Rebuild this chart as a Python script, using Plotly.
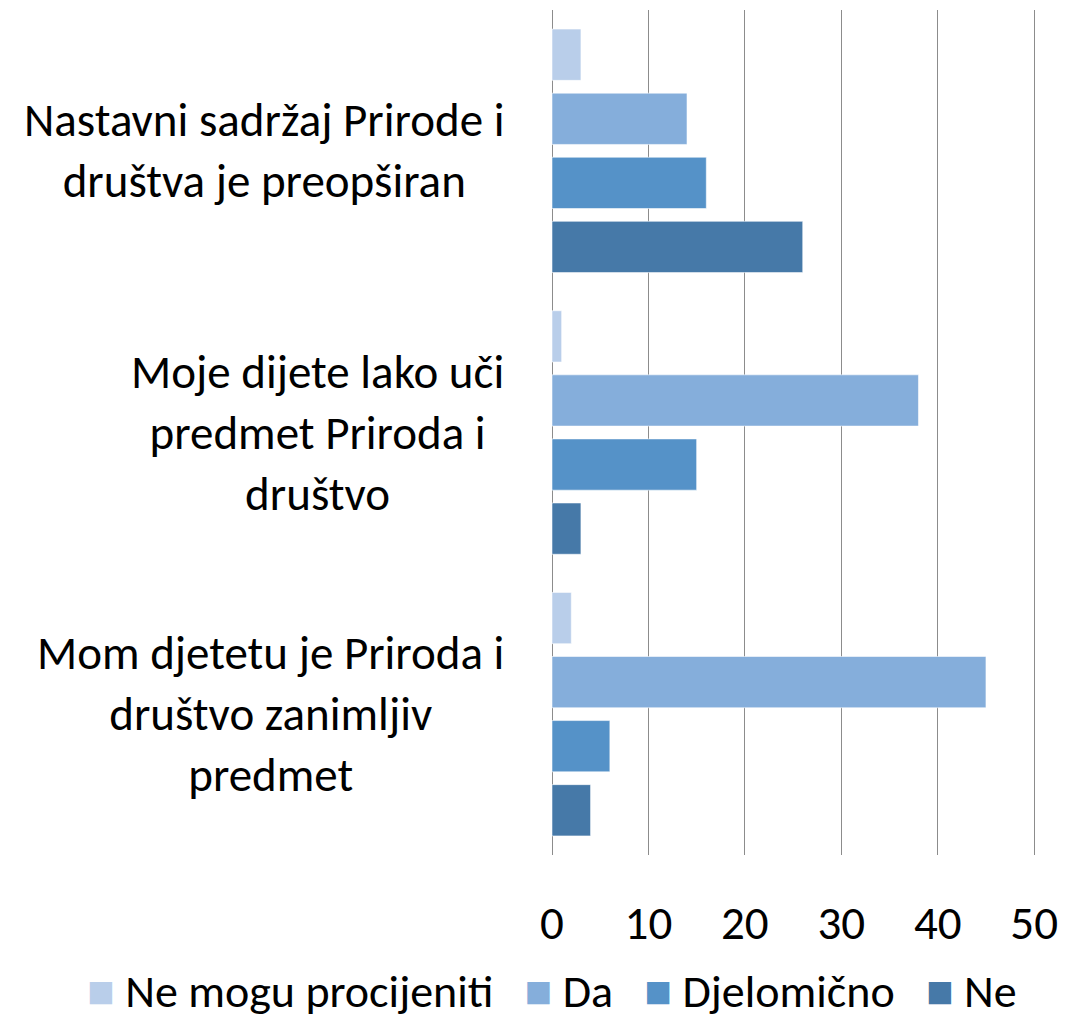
import plotly.graph_objects as go

categories = [
    "Nastavni sadržaj Prirode i<br>društva je preopširan",
    "Moje dijete lako uči<br>predmet Priroda i<br>društvo",
    "Mom djetetu je Priroda i<br>društvo zanimljiv<br>predmet",
]
series_names = ["Ne mogu procijeniti", "Da", "Djelomično", "Ne"]
ne_mogu = [3, 1, 2]
da = [14, 38, 45]
djelomicno = [16, 15, 6]
ne = [26, 3, 4]
series_values = [ne_mogu, da, djelomicno, ne]
colors = ["#B9CEEA", "#85AEDB", "#5592C8", "#4679A8"]
x_ticks = [0, 10, 20, 30, 40, 50]

FONT = "Carlito, Calibri, Lato, sans-serif"
FS = 47

fig = go.Figure()
for name, vals, col in zip(series_names, series_values, colors):
    fig.add_trace(go.Bar(
        y=categories, x=vals, name=name, orientation="h",
        marker=dict(color=col, line=dict(color="rgba(255,255,255,0.55)", width=1)),
        showlegend=False,
    ))

# category labels (centered multi-line text, right edge near axis)
for cat in categories:
    fig.add_annotation(
        x=0, xref="paper", xanchor="right", xshift=-46,
        y=cat, yref="y", yanchor="middle",
        text=cat, align="center", showarrow=False,
        font=dict(family=FONT, size=FS, color="#000000"),
    )

# legend row (centered under the value axis origin)
legend_text = "   ".join(
    f"<span style='color:{c}'>■</span> {n}" for n, c in zip(series_names, colors)
)
fig.add_annotation(
    x=0, xref="x", xanchor="center",
    y=-0.161, yref="paper", yanchor="middle",
    text=legend_text, showarrow=False,
    font=dict(family=FONT, size=46, color="#000000"),
)

fig.update_layout(
    width=1068, height=1018,
    margin=dict(l=552, r=22, t=10, b=163),
    paper_bgcolor="white", plot_bgcolor="white",
    barmode="group", bargap=0.09, bargroupgap=0.2,
    font=dict(family=FONT, size=FS, color="#000000"),
    showlegend=False,
)
fig.update_xaxes(
    range=[0, 50.5], tickvals=x_ticks, ticktext=[str(t) for t in x_ticks],
    showgrid=True, gridcolor="#8C8C8C", gridwidth=1,
    zeroline=True, zerolinecolor="#8C8C8C", zerolinewidth=1,
    showline=False, ticks="", ticklabelstandoff=36,
    tickfont=dict(family=FONT, size=FS, color="#000000"),
    fixedrange=True,
)
fig.update_yaxes(
    categoryorder="array", categoryarray=categories, autorange="reversed",
    showticklabels=False, showgrid=False, showline=False, ticks="",
    fixedrange=True,
)

fig.write_html(
    "out.html",
    config={"displayModeBar": False},
    post_script="document.body.style.margin='0';document.body.style.overflow='hidden';",
)
